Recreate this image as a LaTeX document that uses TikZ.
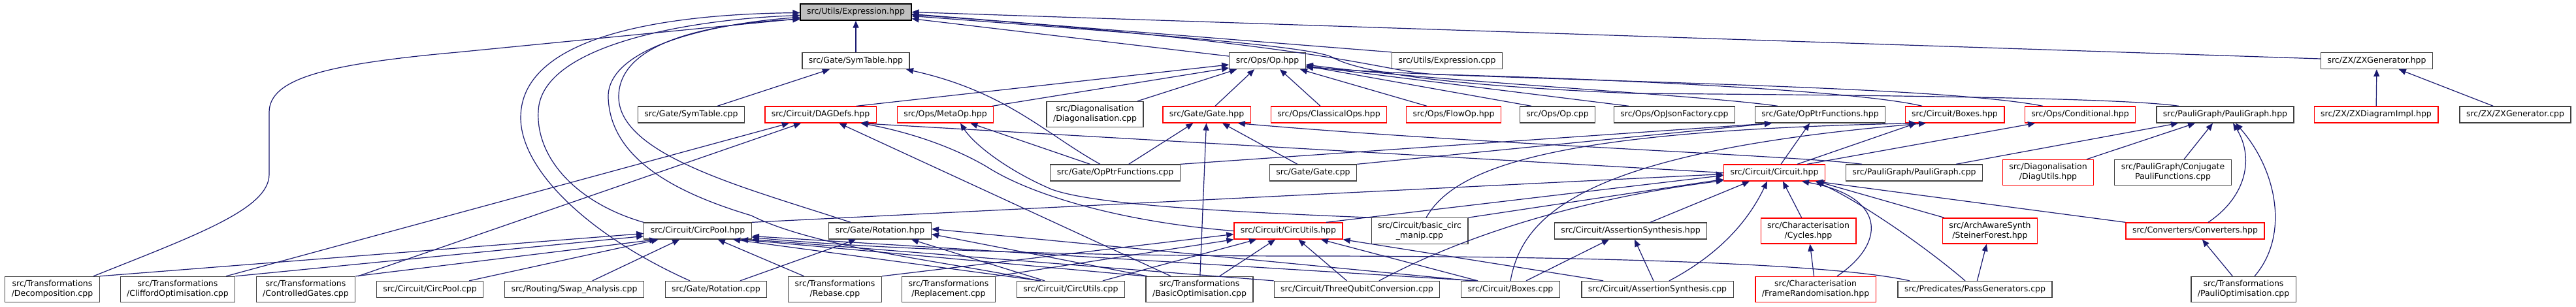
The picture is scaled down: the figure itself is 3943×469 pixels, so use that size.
\documentclass[tikz,border=0pt]{standalone}
\usepackage{fontspec}
\setmainfont{DejaVu Sans}
\usetikzlibrary{arrows.meta}
\definecolor{EdgeBlue}{RGB}{25,25,112}
\definecolor{RootGrey}{RGB}{191,191,191}
\definecolor{FrameGrey}{RGB}{64,64,64}

\begin{document}
\begin{tikzpicture}[x=1pt, y=-1pt,
  filebox/.style={draw=FrameGrey, line width=1.3pt, inner xsep=10pt, inner ysep=6pt,
    minimum height=25pt, align=center, font=\fontsize{12.5}{15}\selectfont},
  redbox/.style={filebox, draw=red},
  rootbox/.style={filebox, draw=black, fill=RootGrey},
  incl/.style={draw=EdgeBlue, line width=1.2pt, -{Triangle[length=11pt,width=9pt]}}]
\useasboundingbox (0,0) rectangle (3943,469);

% Row 1
\node[rootbox] (E) at (1310,18.5) {src/Utils/Expression.hpp};

% Row 2
\node[filebox] (symh) at (1310,93) {src/Gate/SymTable.hpp};
\node[filebox] (oph) at (1940,93) {src/Ops/Op.hpp};
\node[filebox] (exprcpp) at (2215,93) {src/Utils/Expression.cpp};
\node[filebox] (zxgenh) at (3638,93) {src/ZX/ZXGenerator.hpp};

% Row 3
\node[filebox] (symcpp) at (1058,175.5) {src/Gate/SymTable.cpp};
\node[redbox] (dagdefs) at (1256,175.5) {src/Circuit/DAGDefs.hpp};
\node[redbox] (metaop) at (1447,175.5) {src/Ops/MetaOp.hpp};
\node[filebox] (diagcpp) at (1676,175) {src/Diagonalisation\\/Diagonalisation.cpp};
\node[redbox] (gateh) at (1847,175.5) {src/Gate/Gate.hpp};
\node[redbox] (classical) at (2034,175.5) {src/Ops/ClassicalOps.hpp};
\node[redbox] (flowop) at (2225,175.5) {src/Ops/FlowOp.hpp};
\node[filebox] (opcpp) at (2384,175.5) {src/Ops/Op.cpp};
\node[filebox] (opjson) at (2563,175.5) {src/Ops/OpJsonFactory.cpp};
\node[filebox] (opptrh) at (2786,175.5) {src/Gate/OpPtrFunctions.hpp};
\node[redbox] (boxesh) at (2992,175.5) {src/Circuit/Boxes.hpp};
\node[redbox] (condh) at (3184,175.5) {src/Ops/Conditional.hpp};
\node[filebox] (pgh) at (3406,175.5) {src/PauliGraph/PauliGraph.hpp};
\node[redbox] (zxdiag) at (3637,175.5) {src/ZX/ZXDiagramImpl.hpp};
\node[filebox] (zxgencpp) at (3850,175.5) {src/ZX/ZXGenerator.cpp};

% Row 4
\node[filebox] (opptrcpp) at (1707,264.5) {src/Gate/OpPtrFunctions.cpp};
\node[filebox] (gatecpp) at (2010,264.5) {src/Gate/Gate.cpp};
\node[redbox] (circh) at (2716,264.5) {src/Circuit/Circuit.hpp};
\node[filebox] (pgcpp) at (2930,264.5) {src/PauliGraph/PauliGraph.cpp};
\node[redbox] (diagutils) at (3135,264) {src/Diagonalisation\\/DiagUtils.hpp};
\node[filebox] (conjpauli) at (3326,264) {src/PauliGraph/Conjugate\\PauliFunctions.cpp};

% Row 5
\node[filebox] (circpoolh) at (1068,353.5) {src/Circuit/CircPool.hpp};
\node[filebox] (roth) at (1347,353.5) {src/Gate/Rotation.hpp};
\node[redbox] (circutilsh) at (1972,353.5) {src/Circuit/CircUtils.hpp};
\node[filebox] (basiccirc) at (2173,353.5) {src/Circuit/basic\_circ\\\_manip.cpp};
\node[filebox] (asserth) at (2496,353.5) {src/Circuit/AssertionSynthesis.hpp};
\node[redbox] (cycles) at (2768,353.5) {src/Characterisation\\/Cycles.hpp};
\node[redbox] (steiner) at (3046,353.5) {src/ArchAwareSynth\\/SteinerForest.hpp};
\node[redbox] (convh) at (3360,353.5) {src/Converters/Converters.hpp};

% Row 6
\node[filebox] (decomp) at (80,443) {src/Transformations\\/Decomposition.cpp};
\node[filebox] (clifford) at (272,443) {src/Transformations\\/CliffordOptimisation.cpp};
\node[filebox] (ctrlgates) at (468,443) {src/Transformations\\/ControlledGates.cpp};
\node[filebox] (circpoolcpp) at (658,443) {src/Circuit/CircPool.cpp};
\node[filebox] (swap) at (879,443) {src/Routing/Swap\_Analysis.cpp};
\node[filebox] (rotcpp) at (1096,443) {src/Gate/Rotation.cpp};
\node[filebox] (rebase) at (1278,443) {src/Transformations\\/Rebase.cpp};
\node[filebox] (replacement) at (1452,443) {src/Transformations\\/Replacement.cpp};
\node[filebox] (circutilscpp) at (1639,443) {src/Circuit/CircUtils.cpp};
\node[filebox] (basicopt) at (1836,443) {src/Transformations\\/BasicOptimisation.cpp};
\node[filebox] (threequbit) at (2077,443) {src/Circuit/ThreeQubitConversion.cpp};
\node[filebox] (boxescpp) at (2312,443) {src/Circuit/Boxes.cpp};
\node[filebox] (assertcpp) at (2537,443) {src/Circuit/AssertionSynthesis.cpp};
\node[redbox] (framerand) at (2779,443) {src/Characterisation\\/FrameRandomisation.hpp};
\node[filebox] (passgen) at (3023,443) {src/Predicates/PassGenerators.cpp};
\node[filebox] (pauliopt) at (3434,443) {src/Transformations\\/PauliOptimisation.cpp};

% Into Expression.hpp
\draw[incl] (symh) -- (E);
\draw[incl] (oph) -- (E);
\draw[incl] (exprcpp.north west) -- ([yshift=-3pt]E.east);
\draw[incl] ([yshift=3pt]zxgenh.west) -- (E.east);
\draw[incl] ([xshift=63pt]decomp.north) .. controls (300,360) and (412,320) .. (412,267) -- (412,172)
  .. controls (412,120) and (500,98) .. (700,80) -- ([yshift=-10pt]E.west);
\draw[incl] ([xshift=-40pt]rotcpp.north) .. controls (900,360) and (797,260) .. (797,180)
  .. controls (797,60) and (1000,22) .. ([yshift=-1pt]E.west);
\draw[incl] (circpoolh.north west) .. controls (880,310) and (820,240) .. (824,170)
  .. controls (828,70) and (1050,30) .. ([yshift=-5pt]E.west);
\draw[incl] ([xshift=-49pt]circutilscpp.north) .. controls (1450,400) and (1250,380) .. (1150,330)
  .. controls (1050,300) and (935,250) .. (931,150) .. controls (928,70) and (1100,35) .. ([yshift=-8pt]E.west);
\draw[incl] ([xshift=-45pt]roth.north) .. controls (1150,290) and (950,240) .. (947,150)
  .. controls (945,60) and (1100,35) .. ([yshift=-11pt]E.west);
\draw[incl] ([xshift=-50pt]boxesh.north) .. controls (2850,140) and (2500,122) .. (2200,114)
  .. controls (2110,110) and (2060,70) .. ([yshift=-4pt]E.east);
\draw[incl] ([xshift=-71pt]pgh.north) .. controls (3250,150) and (2900,146) .. (2500,143)
  .. controls (2200,130) and (2080,110) .. (2040,88) .. controls (2010,72) and (1800,55) .. ([yshift=-6pt]E.east);

% Into SymTable.hpp and ZXGenerator.hpp
\draw[incl] (symcpp) -- (symh);
\draw[incl] ([xshift=-23pt]opptrcpp.north) .. controls (1600,205) and (1540,140) .. ([xshift=77pt]symh.south);
\draw[incl] (zxdiag) -- (zxgenh);
\draw[incl] (zxgencpp) -- (zxgenh);

% Into Op.hpp
\draw[incl] ([xshift=55pt]dagdefs.north) -- ([yshift=-6pt]oph.west);
\draw[incl] ([xshift=72pt]metaop.north) -- ([yshift=-11pt]oph.west);
\draw[incl] ([xshift=65pt]diagcpp.north) -- ([xshift=-47pt]oph.south);
\draw[incl] ([xshift=13pt]gateh.north) -- ([xshift=-20pt]oph.south);
\draw[incl] ([xshift=-13pt]classical.north) -- ([xshift=19pt]oph.south);
\draw[incl] ([xshift=-41pt]flowop.north) -- ([xshift=50pt]oph.south);
\draw[incl] ([xshift=-40pt]opcpp.north) -- ([yshift=-8pt]oph.east);
\draw[incl] ([xshift=-70pt]opjson.north) -- ([yshift=-8pt]oph.east);
\draw[incl] ([xshift=-65pt]opptrh.north) .. controls (2600,145) and (2200,125) .. ([yshift=-6pt]oph.east);
\draw[incl] ([xshift=-57pt]condh.north) .. controls (2950,128) and (2300,125) .. ([yshift=-10pt]oph.east);

% Into DAGDefs.hpp and MetaOp.hpp
\draw[incl] (clifford) -- (dagdefs);
\draw[incl] ([xshift=80pt]ctrlgates.north) -- ([xshift=-30pt]dagdefs.south);
\draw[incl] (basicopt) -- (dagdefs);
\draw[incl] (circutilsh.west) .. controls (1720,340) and (1580,300) .. (1510,255)
  .. controls (1450,220) and (1380,200) .. ([xshift=62pt]dagdefs.south);
\draw[incl] (circh.west) -- ([xshift=-25pt]dagdefs.south east);
\draw[incl] (opptrcpp) -- (metaop);
\draw[incl] (basiccirc.north west) .. controls (1900,325) and (1680,315) .. (1610,290)
  .. controls (1540,260) and (1490,220) .. ([xshift=23pt]metaop.south);

% Into Gate.hpp and OpPtrFunctions.hpp
\draw[incl] (opptrcpp) -- (gateh);
\draw[incl] (basicopt) -- (gateh);
\draw[incl] (gatecpp) -- (gateh);
\draw[incl] ([xshift=-80pt]pgcpp.north) .. controls (2750,238) and (2250,220) .. ([xshift=-20pt]gateh.south east);
\draw[incl] (opptrcpp.north east) -- ([xshift=-74pt]opptrh.south);
\draw[incl] (gatecpp.north east) -- ([xshift=-74pt]opptrh.south);
\draw[incl] ([xshift=10pt]circh.north) -- ([xshift=-16pt]opptrh.south);

% Into Boxes.hpp, Conditional.hpp and PauliGraph.hpp
\draw[incl] ([xshift=35pt]circh.north) -- ([xshift=-59pt]boxesh.south);
\draw[incl] (boxescpp.north) .. controls (2330,330) and (2420,232) .. ([xshift=-44pt]boxesh.south);
\draw[incl] ([xshift=10pt]basiccirc.north) .. controls (2230,250) and (2400,200) .. ([xshift=-59pt]boxesh.south);
\draw[incl] ([xshift=50pt]circh.north) -- ([xshift=-69pt]condh.south);
\draw[incl] ([xshift=64pt]pgcpp.north) -- ([xshift=-72pt]pgh.south);
\draw[incl] ([xshift=59pt]diagutils.north) -- ([xshift=-46pt]pgh.south);
\draw[incl] ([xshift=17pt]conjpauli.north) -- ([xshift=-19pt]pgh.south);
\draw[incl] ([xshift=20pt]convh.north) .. controls (3440,300) and (3450,240) .. ([xshift=12pt]pgh.south);
\draw[incl] ([xshift=17pt]pauliopt.north) .. controls (3505,360) and (3485,260) .. ([xshift=16pt]pgh.south);

% Into Circuit.hpp
\draw[incl] (circpoolh.north east) -- ([yshift=-2pt]circh.west);
\draw[incl] ([xshift=58pt]circutilsh.north) -- ([yshift=-4pt]circh.west);
\draw[incl] (basiccirc.north east) -- ([yshift=-10pt]circh.west);
\draw[incl] ([xshift=34pt]threequbit.north) .. controls (2260,350) and (2450,300) .. ([yshift=-12pt]circh.west);
\draw[incl] ([xshift=30pt]asserth.north) -- ([xshift=-38pt]circh.south);
\draw[incl] ([xshift=18pt]assertcpp.north) .. controls (2640,385) and (2680,330) .. ([xshift=-11pt]circh.south);
\draw[incl] (cycles) -- ([xshift=13pt]circh.south);
\draw[incl] ([xshift=33pt]framerand.north) .. controls (2890,370) and (2885,300) .. ([xshift=42pt]circh.south);
\draw[incl] ([xshift=-15pt]passgen.north) .. controls (2950,380) and (2850,310) .. ([xshift=63pt]circh.south);
\draw[incl] ([xshift=-70pt]steiner.north) -- ([xshift=65pt]circh.south);
\draw[incl] (convh.north west) -- ([xshift=63pt]circh.south);
\draw[incl] (pauliopt) -- (convh);

% Into CircPool.hpp
\draw[incl] (decomp.north east) -- ([yshift=-4pt]circpoolh.west);
\draw[incl] (clifford.north east) -- ([yshift=-8pt]circpoolh.west);
\draw[incl] (ctrlgates.north east) -- ([xshift=20pt]circpoolh.south west);
\draw[incl] (circpoolcpp) -- (circpoolh);
\draw[incl] (swap) -- (circpoolh);
\draw[incl] (rebase) -- (circpoolh);
\draw[incl] ([xshift=-46pt]circutilscpp.north) -- ([xshift=54pt]circpoolh.south);
\draw[incl] (basicopt.north west) -- ([xshift=66pt]circpoolh.south);
\draw[incl] (threequbit.north west) -- (circpoolh.south east);
\draw[incl] ([xshift=-53pt]boxescpp.north) -- ([yshift=-8pt]circpoolh.east);
\draw[incl] ([xshift=-100pt]passgen.north) .. controls (2800,402) and (2400,392) .. (2000,392)
  .. controls (1650,392) and (1350,382) .. ([yshift=-10pt]circpoolh.east);

% Into Rotation.hpp
\draw[incl] (rotcpp) -- (roth);
\draw[incl] ([xshift=-40pt]circutilscpp.north) -- ([xshift=48pt]roth.south);
\draw[incl] ([xshift=-80pt]basicopt.north) -- ([yshift=-5pt]roth.east);
\draw[incl] ([xshift=-60pt]boxescpp.north) -- ([yshift=3pt]roth.east);

% Into CircUtils.hpp
\draw[incl] (rebase.north east) -- ([yshift=-5pt]circutilsh.west);
\draw[incl] (replacement.north east) -- (circutilsh.south west);
\draw[incl] (circutilscpp) -- (circutilsh);
\draw[incl] (basicopt) -- (circutilsh);
\draw[incl] (threequbit) -- (circutilsh);
\draw[incl] (boxescpp) -- (circutilsh);
\draw[incl] (assertcpp) -- (circutilsh);

% Remaining
\draw[incl] ([xshift=24pt]boxescpp.north) -- ([xshift=-33pt]asserth.south);
\draw[incl] (assertcpp) -- (asserth);
\draw[incl] (framerand) -- (cycles);
\draw[incl] (passgen) -- (steiner);
\end{tikzpicture}
\end{document}
